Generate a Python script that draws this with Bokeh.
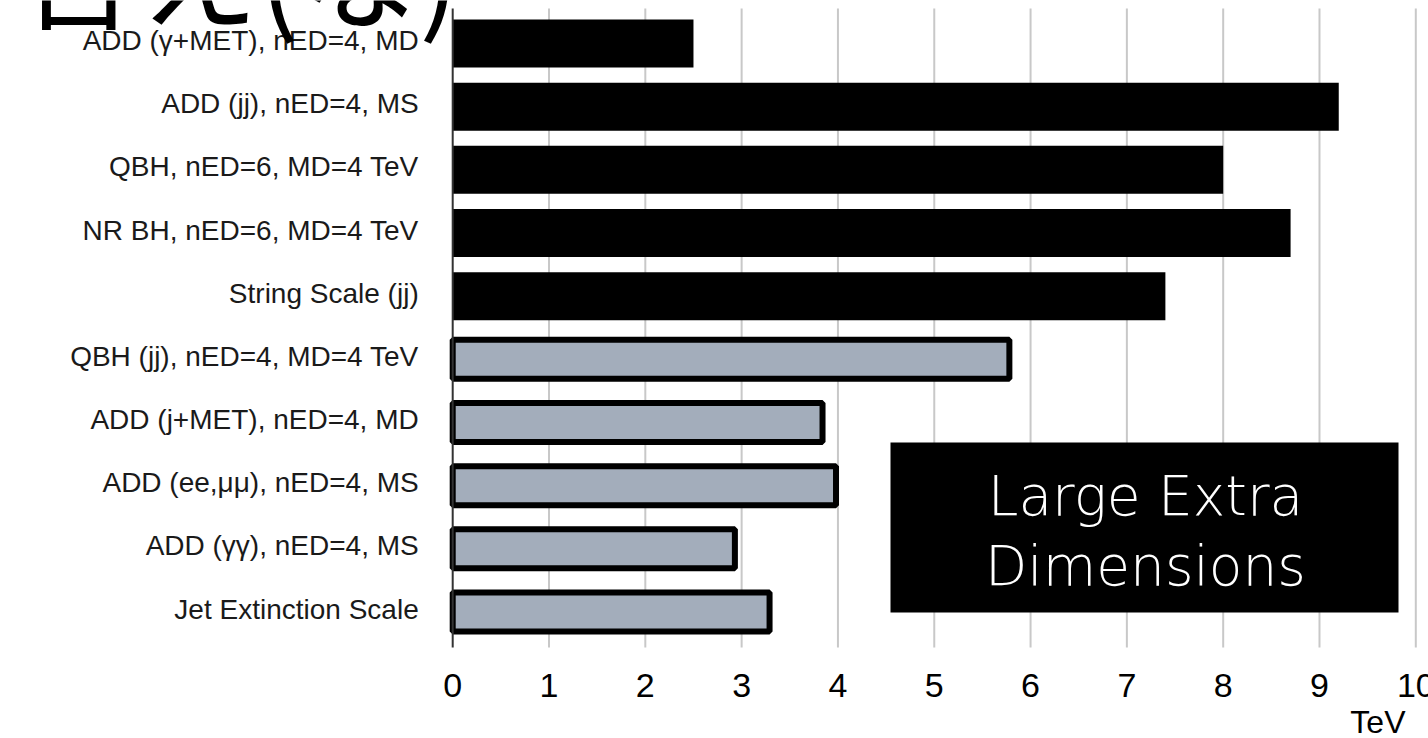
from bokeh.plotting import figure
from bokeh.models import Range1d, Label, BoxAnnotation
from bokeh.core.properties import value
from bokeh.embed import file_html
from bokeh.resources import INLINE

# Search categories, listed top to bottom
categories = [
    "ADD (γ+MET), nED=4, MD",
    "ADD (jj), nED=4, MS",
    "QBH, nED=6, MD=4 TeV",
    "NR BH, nED=6, MD=4 TeV",
    "String Scale (jj)",
    "QBH (jj), nED=4, MD=4 TeV",
    "ADD (j+MET), nED=4, MD",
    "ADD (ee,μμ), nED=4, MS",
    "ADD (γγ), nED=4, MS",
    "Jet Extinction Scale",
]
# Lower limits in TeV
limits_tev = [2.5, 9.2, 8.0, 8.7, 7.4, 5.78, 3.84, 3.98, 2.93, 3.29]
# Which results are drawn as solid black bars (the rest are grey)
is_new = [True, True, True, True, True, False, False, False, False, False]
x_ticks = [0, 1, 2, 3, 4, 5, 6, 7, 8, 9, 10]
x_unit = "TeV"
heading = "合え(な)"
tag_lines = ["Large Extra", "Dimensions"]

# ---- page geometry (pixels) ----
W, H = 1428, 738
X0_PX, PX_PER_TEV = 452.2, 96.31      # where 0 TeV sits, and the TeV scale
ROW0_PX, PX_PER_ROW = 43.0, 63.17     # centre of the first row, and row pitch
GRID_TOP_PX, GRID_BOTTOM_PX = 8, 647


def tev_at(px):
    return (px - X0_PX) / PX_PER_TEV


def row_at(py):
    return (py - ROW0_PX) / PX_PER_ROW


rows = list(range(len(categories)))
new_rows = [r for r, n in zip(rows, is_new) if n]
new_vals = [v for v, n in zip(limits_tev, is_new) if n]
old_rows = [r for r, n in zip(rows, is_new) if not n]
old_vals = [v for v, n in zip(limits_tev, is_new) if not n]

p = figure(
    width=W, height=H,
    x_range=Range1d(tev_at(0), tev_at(W)),
    y_range=Range1d(row_at(H), row_at(0)),
    x_axis_location=None, y_axis_location=None,
    output_backend="svg", toolbar_location=None,
    min_border=0,
)
p.outline_line_color = None
p.background_fill_color = "white"
p.xgrid.visible = False
p.ygrid.visible = False

# vertical grid lines at every tick, and the value axis line at 0
grid_ticks = [t for t in x_ticks if t != 0]
p.segment(x0=grid_ticks, x1=grid_ticks,
          y0=[row_at(GRID_TOP_PX)] * len(grid_ticks),
          y1=[row_at(GRID_BOTTOM_PX)] * len(grid_ticks),
          line_color="#c8c8c8", line_width=2)

# bars
p.hbar(y=new_rows, left=0, right=new_vals, height=0.76,
       fill_color="black", line_color=None)
p.hbar(y=old_rows, left=0, right=old_vals, height=0.617,
       fill_color="#a3adbb", line_color="black", line_width=6)

p.segment(x0=[0], x1=[0], y0=[row_at(GRID_TOP_PX)], y1=[row_at(GRID_BOTTOM_PX)],
          line_color="#333333", line_width=2)

# category labels
p.text(x=[0] * len(rows), y=rows, text=categories,
       x_offset=-34, y_offset=-3,
       text_align="right", text_baseline="middle",
       text_font=value("Liberation Sans"), text_font_size="28px",
       text_color="#1a1a1a")

# tick labels
p.text(x=x_ticks, y=[row_at(684.5)] * len(x_ticks), text=[str(t) for t in x_ticks],
       text_align="center", text_baseline="middle",
       text_font=value("Liberation Sans"), text_font_size="34px",
       text_color="black")

# unit
p.add_layout(Label(x=tev_at(1405), y=row_at(721.5), text=x_unit,
                   text_align="right", text_baseline="middle",
                   text_font="Liberation Sans", text_font_size="32px",
                   text_color="black"))

# heading, running off the top edge
p.add_layout(Label(x=tev_at(18), y=row_at(-33), text=heading,
                   text_align="left", text_baseline="middle",
                   text_font="Noto Sans CJK JP", text_font_size="120px",
                   text_color="black"))

# tag box
p.add_layout(BoxAnnotation(left=tev_at(890), right=tev_at(1398),
                           top=row_at(442), bottom=row_at(612),
                           fill_color="black", fill_alpha=1.0, line_color=None))
for line, cy in zip(tag_lines, [495, 565]):
    p.add_layout(Label(x=tev_at(1145), y=row_at(cy), text=line,
                       text_align="center", text_baseline="middle",
                       text_font="DejaVu Sans Light", text_font_size="55px",
                       text_color="white"))

open("out.html", "w").write(file_html(p, INLINE))
